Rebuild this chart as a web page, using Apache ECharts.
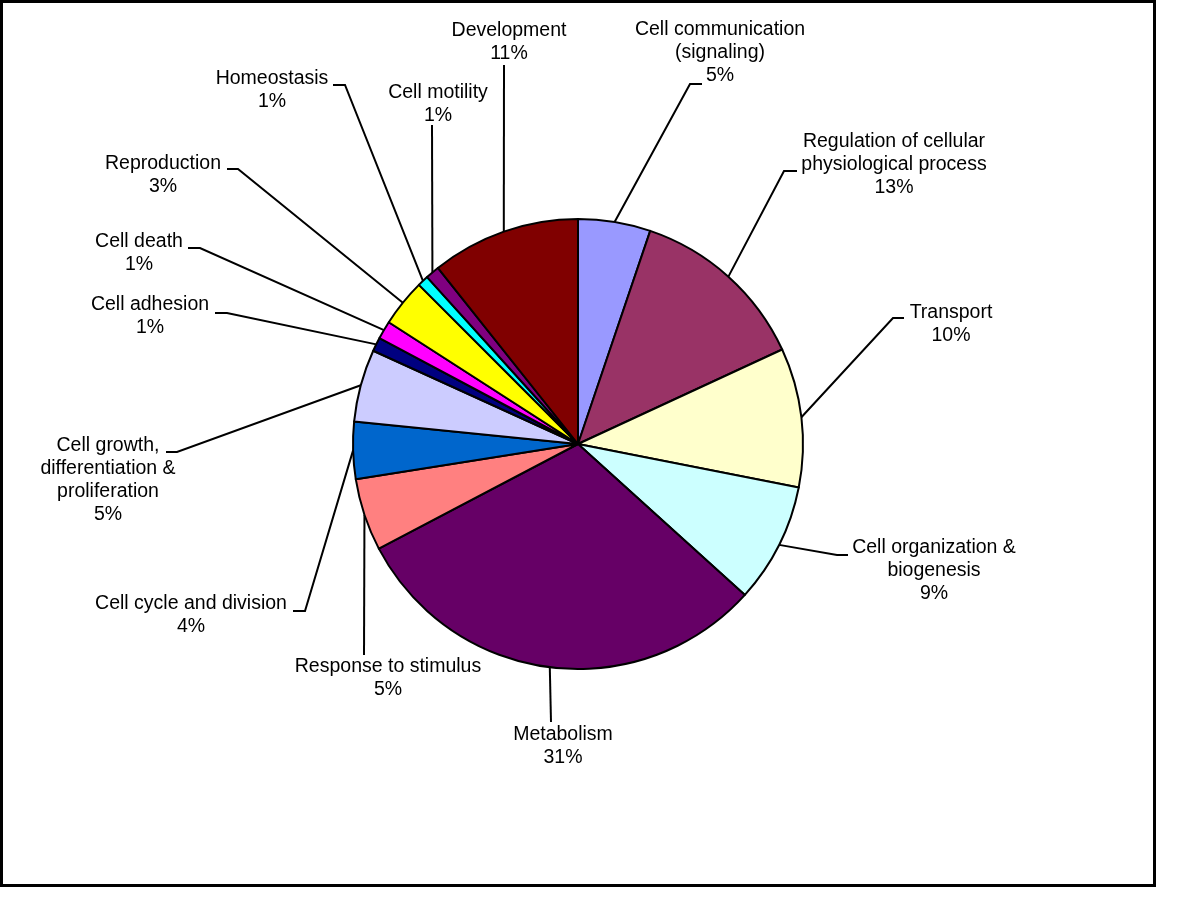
<!DOCTYPE html>
<html>
<head>
<meta charset="utf-8">
<script src="https://cdn.jsdelivr.net/npm/echarts@6/dist/echarts.min.js"></script>
<style>
  html, body { margin: 0; padding: 0; background: #ffffff; }
  #chart { width: 1200px; height: 901px; }
</style>
</head>
<body>
<div id="chart"></div>
<script>
// ---- data (clockwise from 12 o'clock) ----
const categories = [
  'Cell communication\n(signaling)',
  'Regulation of cellular\nphysiological process',
  'Transport',
  'Cell organization &\nbiogenesis',
  'Metabolism',
  'Response to stimulus',
  'Cell cycle and division',
  'Cell growth,\ndifferentiation &\nproliferation',
  'Cell adhesion',
  'Cell death',
  'Reproduction',
  'Homeostasis',
  'Cell motility',
  'Development'
];
const shares = [5.2, 12.9, 10.0, 8.6, 30.6, 5.2, 4.1, 5.2, 1.0, 1.3, 3.4, 0.8, 1.0, 10.7];
const sliceColors = [
  '#9999FF', '#993366', '#FFFFCC', '#CCFFFF', '#660066', '#FF8080', '#0066CC',
  '#CCCCFF', '#000080', '#FF00FF', '#FFFF00', '#00FFFF', '#800080', '#800000'
];

// ---- label layout (text block centre x, first-line centre y) ----
const labelAnchors = [
  [720, 30], [894, 142], [951, 313], [934, 548], [563, 735], [388, 667], [191, 604],
  [108, 446], [150, 305], [139, 242], [163, 164], [272, 79], [438, 93], [509, 31]
];
// leader line: bend point then end point near the label
const leaderEnds = [
  [[690, 84], [702, 84]],
  [[784, 171], [797, 171]],
  [[893, 318], [904, 318]],
  [[837, 555], [848, 555]],
  [[551, 722], [551, 722]],
  [[364, 655], [364, 655]],
  [[305, 611], [293, 611]],
  [[177, 452], [166, 452]],
  [[227, 313], [215, 313]],
  [[200, 248], [188, 248]],
  [[238, 169], [227, 169]],
  [[345, 85], [333, 85]],
  [[432, 125], [432, 125]],
  [[504, 65], [504, 65]]
];
const LINE_H = 23;

const chart = echarts.init(document.getElementById('chart'), null, { renderer: 'canvas' });

const seriesData = categories.map((c, i) => ({
  name: c,
  value: shares[i],
  itemStyle: { color: sliceColors[i] }
}));

chart.setOption({
  backgroundColor: '#ffffff',
  animation: false,
  graphic: [{
    type: 'rect',
    shape: { x: 1.5, y: 1.5, width: 1153, height: 884 },
    style: { fill: 'none', stroke: '#000', lineWidth: 3 },
    silent: true,
    z: 100
  }],
  series: [{
    type: 'pie',
    center: [578, 444],
    radius: 225,
    startAngle: 90,
    clockwise: true,
    avoidLabelOverlap: false,
    emphasis: { scale: false },
    itemStyle: { borderColor: '#000', borderWidth: 2 },
    label: {
      show: true,
      position: 'outside',
      color: '#000',
      fontFamily: 'Liberation Sans, Arial, sans-serif',
      fontSize: 19.5,
      lineHeight: LINE_H,
      align: 'center',
      formatter: p => p.name + '\n' + Math.round(p.percent) + '%'
    },
    labelLine: {
      show: true,
      length: 20,
      length2: 10,
      lineStyle: { color: '#000', width: 2 }
    },
    labelLayout: function (params) {
      const i = params.dataIndex;
      const a = labelAnchors[i];
      const arcPt = params.labelLinePoints ? params.labelLinePoints[0] : [578, 444];
      const ends = leaderEnds[i];
      return {
        x: a[0],
        y: a[1] - LINE_H / 2,
        align: 'center',
        verticalAlign: 'top',
        labelLinePoints: [arcPt, ends[0], ends[1]]
      };
    },
    data: seriesData
  }]
});
</script>
</body>
</html>
